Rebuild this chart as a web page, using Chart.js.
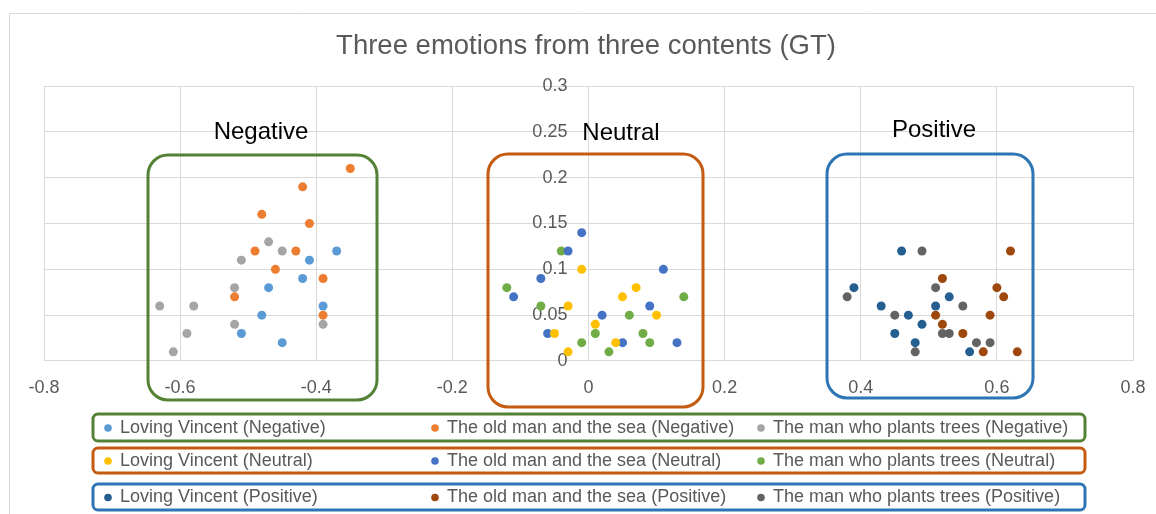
<!DOCTYPE html>
<html>
<head>
<meta charset="utf-8">
<script src="https://cdn.jsdelivr.net/npm/chart.js@4.4.1/dist/chart.umd.min.js"></script>
<style>
  html, body { margin: 0; padding: 0; background: #ffffff; }
  #wrap { position: relative; width: 1156px; height: 514px; }
  canvas { display: block; }
</style>
</head>
<body>
<div id="wrap"><canvas id="c" width="1156" height="514"></canvas></div>
<script>
// ---------- data ----------
const chartTitle = 'Three emotions from three contents (GT)';
const groupLabels = ['Negative', 'Neutral', 'Positive'];
const seriesLabels = [
  'Loving Vincent (Negative)', 'The old man and the sea (Negative)', 'The man who plants trees (Negative)',
  'Loving Vincent (Neutral)', 'The old man and the sea (Neutral)', 'The man who plants trees (Neutral)',
  'Loving Vincent (Positive)', 'The old man and the sea (Positive)', 'The man who plants trees (Positive)'
];
const xTickLabels = ['-0.8', '-0.6', '-0.4', '-0.2', '0', '0.2', '0.4', '0.6', '0.8'];
const yTickLabels = ['0', '0.05', '0.1', '0.15', '0.2', '0.25', '0.3'];

const lvNegX = [-0.37, -0.41, -0.42, -0.47, -0.39, -0.48, -0.51, -0.45];
const lvNegY = [0.12, 0.11, 0.09, 0.08, 0.06, 0.05, 0.03, 0.02];
const omNegX = [-0.35, -0.42, -0.48, -0.41, -0.49, -0.43, -0.46, -0.39, -0.52, -0.39];
const omNegY = [0.21, 0.19, 0.16, 0.15, 0.12, 0.12, 0.10, 0.09, 0.07, 0.05];
const mtNegX = [-0.47, -0.45, -0.51, -0.52, -0.63, -0.58, -0.52, -0.39, -0.59, -0.61];
const mtNegY = [0.13, 0.12, 0.11, 0.08, 0.06, 0.06, 0.04, 0.04, 0.03, 0.01];

const lvNeuX = [-0.01, 0.07, 0.05, -0.03, 0.10, 0.01, -0.05, 0.04, -0.03];
const lvNeuY = [0.10, 0.08, 0.07, 0.06, 0.05, 0.04, 0.03, 0.02, 0.01];
const omNeuX = [-0.01, -0.03, -0.07, -0.11, 0.11, 0.09, 0.02, -0.06, 0.05, 0.13];
const omNeuY = [0.14, 0.12, 0.09, 0.07, 0.10, 0.06, 0.05, 0.03, 0.02, 0.02];
const mtNeuX = [-0.04, -0.12, -0.07, 0.14, 0.06, 0.01, 0.08, -0.01, 0.09, 0.03];
const mtNeuY = [0.12, 0.08, 0.06, 0.07, 0.05, 0.03, 0.03, 0.02, 0.02, 0.01];

const lvPosX = [0.46, 0.39, 0.53, 0.43, 0.51, 0.47, 0.49, 0.45, 0.48, 0.56];
const lvPosY = [0.12, 0.08, 0.07, 0.06, 0.06, 0.05, 0.04, 0.03, 0.02, 0.01];
const omPosX = [0.62, 0.52, 0.60, 0.61, 0.51, 0.59, 0.52, 0.55, 0.58, 0.63];
const omPosY = [0.12, 0.09, 0.08, 0.07, 0.05, 0.05, 0.04, 0.03, 0.01, 0.01];
const mtPosX = [0.49, 0.38, 0.51, 0.55, 0.45, 0.52, 0.53, 0.57, 0.59, 0.48];
const mtPosY = [0.12, 0.07, 0.08, 0.06, 0.05, 0.03, 0.03, 0.02, 0.02, 0.01];

// ---------- styles ----------
const seriesColors = ['#5B9BD5', '#ED7D31', '#A5A5A5', '#FFC000', '#4472C4', '#70AD47', '#255E91', '#9E480E', '#636363'];
const groupColors = ['#548235', '#C55A11', '#2E75B6'];
const FONT = "'Liberation Sans', Arial, sans-serif";
const TEXT_GRAY = '#595959';
const GRID = '#D9D9D9';

function pairs(xs, ys) { return xs.map((x, i) => ({ x: x, y: ys[i] })); }
const seriesData = [
  pairs(lvNegX, lvNegY), pairs(omNegX, omNegY), pairs(mtNegX, mtNegY),
  pairs(lvNeuX, lvNeuY), pairs(omNeuX, omNeuY), pairs(mtNeuX, mtNeuY),
  pairs(lvPosX, lvPosY), pairs(omPosX, omPosY), pairs(mtPosX, mtPosY)
];

function roundRect(ctx, x, y, w, h, r) {
  ctx.beginPath();
  ctx.moveTo(x + r, y);
  ctx.lineTo(x + w - r, y);
  ctx.arcTo(x + w, y, x + w, y + r, r);
  ctx.lineTo(x + w, y + h - r);
  ctx.arcTo(x + w, y + h, x + w - r, y + h, r);
  ctx.lineTo(x + r, y + h);
  ctx.arcTo(x, y + h, x, y + h - r, r);
  ctx.lineTo(x, y + r);
  ctx.arcTo(x, y, x + r, y, r);
  ctx.closePath();
}

const overlay = {
  id: 'overlay',
  beforeDraw(chart) {
    const ctx = chart.ctx;
    ctx.save();
    ctx.fillStyle = '#ffffff';
    ctx.fillRect(0, 0, chart.width, chart.height);
    ctx.strokeStyle = GRID;
    ctx.lineWidth = 1;
    ctx.beginPath();
    ctx.moveTo(9.5, chart.height);
    ctx.lineTo(9.5, 13.5);
    ctx.lineTo(chart.width, 13.5);
    ctx.stroke();
    // title
    ctx.fillStyle = TEXT_GRAY;
    ctx.font = '27.5px ' + FONT;
    ctx.textAlign = 'center';
    ctx.textBaseline = 'middle';
    ctx.fillText(chartTitle, 586, 46);
    ctx.restore();
  },
  afterDraw(chart) {
    const ctx = chart.ctx;
    ctx.save();
    // group boxes
    const boxes = [
      { x: 148, y: 155, w: 229, h: 245 },
      { x: 488, y: 154, w: 215, h: 253 },
      { x: 827, y: 154, w: 206, h: 244 }
    ];
    const labelPos = [[261, 132], [621, 133], [934, 130]];
    boxes.forEach((b, i) => {
      ctx.strokeStyle = groupColors[i];
      ctx.lineWidth = 3;
      roundRect(ctx, b.x, b.y, b.w, b.h, 20);
      ctx.stroke();
      ctx.fillStyle = '#000000';
      ctx.font = '24px ' + FONT;
      ctx.textAlign = 'center';
      ctx.textBaseline = 'middle';
      ctx.fillText(groupLabels[i], labelPos[i][0], labelPos[i][1]);
    });
    // legend rows
    const rowTop = [414, 448, 484];
    const rowH = [27, 25, 26];
    const colDot = [108, 435, 761];
    const colText = [120, 447, 773];
    for (let r = 0; r < 3; r++) {
      ctx.strokeStyle = groupColors[r];
      ctx.lineWidth = 3;
      roundRect(ctx, 93, rowTop[r], 992, rowH[r], 5);
      ctx.stroke();
      const cy = rowTop[r] + rowH[r] / 2 + 0.5;
      for (let c = 0; c < 3; c++) {
        const idx = r * 3 + c;
        ctx.fillStyle = seriesColors[idx];
        ctx.beginPath();
        ctx.arc(colDot[c], cy, 3.8, 0, Math.PI * 2);
        ctx.fill();
        ctx.fillStyle = TEXT_GRAY;
        ctx.font = '18px ' + FONT;
        ctx.textAlign = 'left';
        ctx.textBaseline = 'middle';
        ctx.fillText(seriesLabels[idx], colText[c], cy);
      }
    }
    ctx.restore();
  }
};

Chart.defaults.font.family = FONT;
Chart.defaults.color = TEXT_GRAY;

new Chart(document.getElementById('c'), {
  type: 'scatter',
  data: {
    datasets: seriesData.map((d, i) => ({
      label: seriesLabels[i],
      data: d,
      backgroundColor: seriesColors[i],
      borderColor: seriesColors[i],
      borderWidth: 0,
      pointRadius: 4.5,
      pointHoverRadius: 4.5
    }))
  },
  options: {
    responsive: false,
    animation: false,
    devicePixelRatio: 1,
    events: [],
    layout: { padding: { left: 44, right: 23, top: 86, bottom: 99 } },
    plugins: { legend: { display: false }, title: { display: false }, tooltip: { enabled: false } },
    scales: {
      x: {
        type: 'linear',
        position: 'bottom',
        min: -0.8, max: 0.8,
        grid: { color: GRID, lineWidth: 1, drawTicks: false },
        border: { color: GRID, width: 1 },
        ticks: {
          stepSize: 0.2,
          padding: 3,
          font: { size: 18, lineHeight: 2.667 },
          color: TEXT_GRAY,
          callback: (v, i) => xTickLabels[i]
        }
      },
      y: {
        type: 'linear',
        // labels are right-aligned at this position, just left of the x = 0 line
        position: { x: -0.031 },
        min: 0, max: 0.3,
        grid: { color: GRID, lineWidth: 1, drawTicks: false },
        border: { display: false },
        afterFit: (scale) => { scale.width = 0; },
        ticks: {
          stepSize: 0.05,
          padding: 0,
          font: { size: 18 },
          color: TEXT_GRAY,
          callback: (v, i) => yTickLabels[i]
        }
      }
    }
  },
  plugins: [overlay]
});
</script>
</body>
</html>
